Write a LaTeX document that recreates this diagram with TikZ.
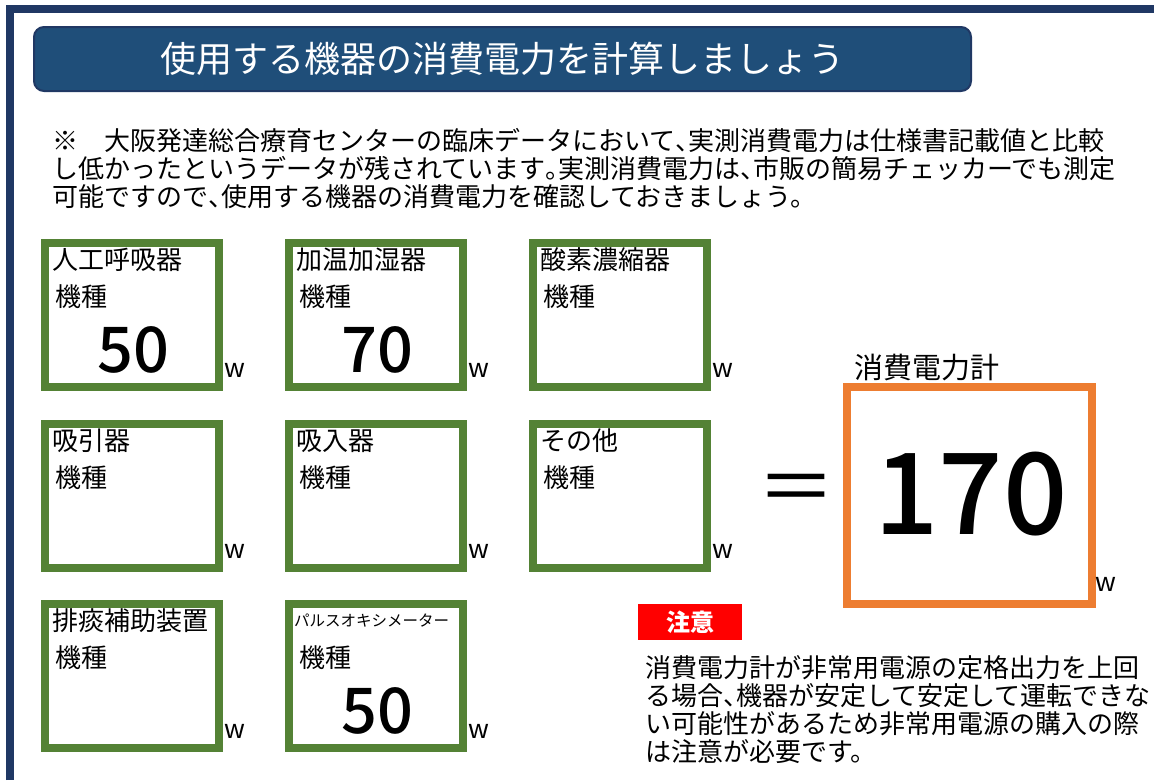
\documentclass[tikz,border=0pt]{standalone}
\usepackage{fontspec}
\setmainfont{Noto Sans CJK JP}
\newfontfamily\numfont{Noto Sans CJK JP Medium}
\definecolor{navy}{HTML}{203864}
\definecolor{titleblue}{HTML}{1F4E79}
\definecolor{grn}{HTML}{548235}
\definecolor{org}{HTML}{ED7D31}
\newcommand{\hc}{\makebox[0.5em][l]{、}}
\newcommand{\hp}{\makebox[0.5em][l]{。}}
\tikzset{
  devbox/.style={draw=grn, line width=8pt, minimum width=174pt, minimum height=144pt, inner sep=0pt},
  lab/.style={anchor=west, inner sep=0pt, font=\fontsize{26}{26}\selectfont},
  smalllab/.style={anchor=west, inner sep=0pt, font=\fontsize{15.5}{16}\selectfont},
  num/.style={inner sep=0pt, font=\numfont\fontsize{63}{63}\selectfont},
  unit/.style={inner sep=0pt, font=\fontsize{26}{26}\selectfont},
  para/.style={anchor=north west, inner sep=0pt, align=left, font=\fontsize{26}{28}\selectfont},
}
\begin{document}
\begin{tikzpicture}[x=1pt,y=-1pt]
\useasboundingbox (0,0) rectangle (1154,780);
% frame
\draw[navy, line width=8pt] (10,780) -- (10,9) -- (1154,9);
% title
\node[draw=navy, fill=titleblue, line width=2pt, rounded corners=10pt, minimum width=937pt, minimum height=64pt, text=white, font=\fontsize{36}{36}\selectfont] (title) at (502.5,59) {使用する機器の消費電力を計算しましょう};
% note
\node[para] (note) at (52,128) {※　大阪発達総合療育センターの臨床データにおいて\hc 実測消費電力は仕様書記載値と比較\\
し低かったというデータが残されています\hp 実測消費電力は\hc 市販の簡易チェッカーでも測定\\
可能ですので\hc 使用する機器の消費電力を確認しておきましょう。};

% row 1
\node[devbox] (b1) at (132,315) {};
\node[lab] (b1t) at (52,260) {人工呼吸器};
\node[lab] (b1m) at (55,297) {機種};
\node[num] (b1v) at (133,350) {50};
\node[unit] (b1w) at (235,370) {w};

\node[devbox] (b2) at (376,315) {};
\node[lab] (b2t) at (296,260) {加温加湿器};
\node[lab] (b2m) at (299,297) {機種};
\node[num] (b2v) at (377,350) {70};
\node[unit] (b2w) at (479,370) {w};

\node[devbox] (b3) at (620,315) {};
\node[lab] (b3t) at (540,260) {酸素濃縮器};
\node[lab] (b3m) at (543,297) {機種};
\node[unit] (b3w) at (723,370) {w};

% row 2
\node[devbox] (b4) at (132,496) {};
\node[lab] (b4t) at (52,441) {吸引器};
\node[lab] (b4m) at (55,478) {機種};
\node[unit] (b4w) at (235,551) {w};

\node[devbox] (b5) at (376,496) {};
\node[lab] (b5t) at (296,441) {吸入器};
\node[lab] (b5m) at (299,478) {機種};
\node[unit] (b5w) at (479,551) {w};

\node[devbox] (b6) at (620,496) {};
\node[lab] (b6t) at (540,441) {その他};
\node[lab] (b6m) at (543,478) {機種};
\node[unit] (b6w) at (723,551) {w};

% row 3
\node[devbox] (b7) at (132,676) {};
\node[lab] (b7t) at (52,621) {排痰補助装置};
\node[lab] (b7m) at (55,658) {機種};
\node[unit] (b7w) at (235,731) {w};

\node[devbox] (b8) at (376,676) {};
\node[smalllab] (b8t) at (294,621) {パルスオキシメーター};
\node[lab] (b8m) at (299,658) {機種};
\node[num] (b8v) at (377,711) {50};
\node[unit] (b8w) at (479,731) {w};

% equals and total
\node[inner sep=0pt, font=\fontsize{78}{78}\selectfont] (eq) at (796,495) {＝};
\node[lab, font=\fontsize{29}{29}\selectfont] (totl) at (854,368) {消費電力計};
\node[draw=org, line width=8pt, minimum width=245pt, minimum height=217pt, inner sep=0pt] (tot) at (969.5,495.5) {};
\node[inner sep=0pt, font=\numfont\fontsize{113}{113}\selectfont] (totv) at (971,494) {170};
\node[unit] (totw) at (1106,584) {w};

% caution
\node[fill=red, minimum width=104pt, minimum height=36pt, inner sep=0pt, text=white, font=\bfseries\fontsize{24}{24}\selectfont] (warn) at (690,622) {注意};
\node[para] (warnt) at (645,655) {消費電力計が非常用電源の定格出力を上回\\
る場合\hc 機器が安定して安定して運転できな\\
い可能性があるため非常用電源の購入の際\\
は注意が必要です。};
\end{tikzpicture}
\end{document}
